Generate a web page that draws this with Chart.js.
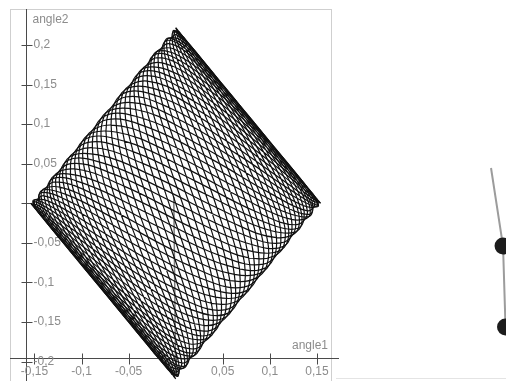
<!DOCTYPE html>
<html>
<head>
<meta charset="utf-8">
<script src="https://cdn.jsdelivr.net/npm/chart.js@4.4.1/dist/chart.umd.min.js"></script>
<style>
  html, body { margin: 0; padding: 0; background: #fff; overflow: hidden; }
  #wrap { position: relative; width: 506px; height: 381px; }
  #plot { position: absolute; left: 0; top: 0; }
  #pend { position: absolute; left: 440px; top: 140px; }
  #floor { position: absolute; left: 336px; top: 378px; width: 170px; height: 1px; background: #e4e4e4; }
</style>
</head>
<body>
<div id="wrap">
  <canvas id="plot" width="506" height="381"></canvas>
  <canvas id="pend" width="66" height="241"></canvas>
  <div id="floor"></div>
</div>
<script>
/* trace of the double pendulum, angle1 / angle2, in five stretches of the run */
const angle1Run1 = [
  0.0000, -0.0121, -0.0429, -0.0782, -0.1008, -0.0969, -0.0623, -0.0039, 0.0623, 0.1167,
  0.1437, 0.1367, 0.1008, 0.0506, 0.0044, -0.0226, -0.0238, -0.0039, 0.0238, 0.0424,
  0.0385, 0.0079, -0.0429, -0.0982, -0.1393, -0.1514, -0.1290, -0.0782, -0.0147, 0.0424,
  0.0770, 0.0822, 0.0623, 0.0306, 0.0044, -0.0026, 0.0147, 0.0506, 0.0905, 0.1167,
  0.1155, 0.0822, 0.0238, -0.0437, -0.1008, -0.1314, -0.1290, -0.0982, -0.0532, -0.0121,
  0.0103, 0.0079, -0.0147, -0.0437, -0.0623, -0.0571, -0.0238, 0.0306, 0.0905, 0.1367,
  0.1540
];
const angle2Run1 = [
  -0.2220, -0.1970, -0.1304, -0.0442, 0.0343, 0.0823, 0.0898, 0.0630, 0.0212, -0.0113,
  -0.0149, 0.0174, 0.0767, 0.1415, 0.1859, 0.1895, 0.1453, 0.0630, -0.0343, -0.1185,
  -0.1665, -0.1683, -0.1304, -0.0729, -0.0212, 0.0038, -0.0063, -0.0442, -0.0898, -0.1185,
  -0.1110, -0.0611, 0.0212, 0.1128, 0.1859, 0.2182, 0.2008, 0.1415, 0.0618, -0.0113,
  -0.0555, -0.0611, -0.0343, 0.0056, 0.0343, 0.0325, -0.0063, -0.0729, -0.1453, -0.1970,
  -0.2071, -0.1683, -0.0898, 0.0056, 0.0898, 0.1397, 0.1453, 0.1128, 0.0618, 0.0174,
  0.0000
];
const angle1Run2 = [
  -0.0009, -0.0200, -0.0547, -0.0894, -0.1071, -0.0960, -0.0544, 0.0079, 0.0735, 0.1230,
  0.1428, 0.1288, 0.0890, 0.0394, -0.0019, -0.0217, -0.0159, 0.0079, 0.0350, 0.0487,
  0.0376, 0.0000, -0.0547, -0.1094, -0.1456, -0.1505, -0.1211, -0.0664, -0.0035, 0.0487,
  0.0761, 0.0743, 0.0505, 0.0194, -0.0019, -0.0017, 0.0226, 0.0624, 0.1017, 0.1230,
  0.1146, 0.0743, 0.0120, -0.0549, -0.1071, -0.1305, -0.1211, -0.0864, -0.0420, -0.0058,
  0.0094, 0.0000, -0.0265, -0.0549, -0.0686, -0.0562, -0.0159, 0.0424, 0.1017, 0.1430,
  0.1531, 0.1288, 0.0787, 0.0194, -0.0301, -0.0562, -0.0544, -0.0319, -0.0035, 0.0142,
  0.0094, -0.0200, -0.0650, -0.1094, -0.1353, -0.1305, -0.0929, -0.0319, 0.0350, 0.0885,
  0.1146, 0.1088, 0.0787, 0.0394, 0.0084, -0.0017, 0.0123, 0.0424, 0.0735, 0.0885,
  0.0761, 0.0345, -0.0265, -0.0894, -0.1353, -0.1505, -0.1314, -0.0864, -0.0317, 0.0142,
  0.0376, 0.0345, 0.0120, -0.0151, -0.0301, -0.0217, 0.0123, 0.0624, 0.1120, 0.1430,
  0.1428, 0.1088, 0.0505, -0.0151, -0.0686, -0.0960, -0.0929, -0.0664, -0.0317, -0.0058,
  -0.0009
];
const angle2Run2 = [
  -0.2207, -0.1857, -0.1134, -0.0281, 0.0434, 0.0810, 0.0785, 0.0460, 0.0051, -0.0204,
  -0.0136, 0.0287, 0.0937, 0.1576, 0.1950, 0.1882, 0.1340, 0.0460, -0.0504, -0.1276,
  -0.1652, -0.1570, -0.1134, -0.0568, -0.0121, 0.0025, -0.0176, -0.0612, -0.1059, -0.1276,
  -0.1097, -0.0498, 0.0382, 0.1289, 0.1950, 0.2169, 0.1895, 0.1245, 0.0457, -0.0204,
  -0.0542, -0.0498, -0.0173, 0.0217, 0.0434, 0.0312, -0.0176, -0.0899, -0.1614, -0.2061,
  -0.2058, -0.1570, -0.0728, 0.0217, 0.0989, 0.1384, 0.1340, 0.0958, 0.0457, 0.0083,
  0.0013, 0.0287, 0.0788, 0.1289, 0.1544, 0.1384, 0.0785, -0.0114, -0.1059, -0.1774,
  -0.2058, -0.1857, -0.1283, -0.0568, 0.0028, 0.0312, 0.0230, -0.0114, -0.0504, -0.0702,
  -0.0542, 0.0000, 0.0788, 0.1576, 0.2099, 0.2169, 0.1746, 0.0958, 0.0051, -0.0702,
  -0.1097, -0.1072, -0.0728, -0.0281, 0.0028, 0.0025, -0.0325, -0.0899, -0.1465, -0.1774,
  -0.1652, -0.1072, -0.0173, 0.0791, 0.1544, 0.1882, 0.1746, 0.1245, 0.0606, 0.0083,
  -0.0136, 0.0000, 0.0382, 0.0791, 0.0989, 0.0810, 0.0230, -0.0612, -0.1465, -0.2061,
  -0.2207
];
const angle1Run3 = [
  -0.0038, -0.0291, -0.0667, -0.0997, -0.1117, -0.0931, -0.0453, 0.0199, 0.0838, 0.1276,
  0.1399, 0.1197, 0.0770, 0.0291, -0.0065, -0.0188, -0.0068, 0.0199, 0.0453, 0.0533,
  0.0347, -0.0091, -0.0667, -0.1197, -0.1502, -0.1476, -0.1120, -0.0544, 0.0068, 0.0533,
  0.0732, 0.0652, 0.0385, 0.0091, -0.0065, 0.0012, 0.0317, 0.0744, 0.1120, 0.1276,
  0.1117, 0.0652, 0.0000, -0.0652, -0.1117, -0.1276, -0.1120, -0.0744, -0.0317, -0.0012,
  0.0065, -0.0091, -0.0385, -0.0652, -0.0732, -0.0533, -0.0068, 0.0544, 0.1120, 0.1476,
  0.1502, 0.1197, 0.0667, 0.0091, -0.0347, -0.0533, -0.0453, -0.0199, 0.0068, 0.0188,
  0.0065, -0.0291, -0.0770, -0.1197, -0.1399, -0.1276, -0.0838, -0.0199, 0.0453, 0.0931,
  0.1117, 0.0997, 0.0667, 0.0291, 0.0038, 0.0012, 0.0214, 0.0544, 0.0838, 0.0931,
  0.0732, 0.0254, -0.0385, -0.0997, -0.1399, -0.1476, -0.1223, -0.0744, -0.0214, 0.0188,
  0.0347, 0.0254, 0.0000, -0.0254, -0.0347, -0.0188, 0.0214, 0.0744, 0.1223, 0.1476,
  0.1399, 0.0997, 0.0385, -0.0254, -0.0732, -0.0931, -0.0838, -0.0544, -0.0214, -0.0012,
  -0.0038
];
const angle2Run3 = [
  -0.2166, -0.1725, -0.0961, -0.0132, 0.0501, 0.0769, 0.0653, 0.0287, -0.0098, -0.0271,
  -0.0095, 0.0419, 0.1110, 0.1725, 0.2017, 0.1841, 0.1208, 0.0287, -0.0653, -0.1343,
  -0.1611, -0.1438, -0.0961, -0.0419, -0.0054, -0.0016, -0.0308, -0.0785, -0.1208, -0.1343,
  -0.1056, -0.0366, 0.0555, 0.1438, 0.2017, 0.2128, 0.1763, 0.1072, 0.0308, -0.0271,
  -0.0501, -0.0366, 0.0000, 0.0366, 0.0501, 0.0271, -0.0308, -0.1072, -0.1763, -0.2128,
  -0.2017, -0.1438, -0.0555, 0.0366, 0.1056, 0.1343, 0.1208, 0.0785, 0.0308, 0.0016,
  0.0054, 0.0419, 0.0961, 0.1438, 0.1611, 0.1343, 0.0653, -0.0287, -0.1208, -0.1841,
  -0.2017, -0.1725, -0.1110, -0.0419, 0.0095, 0.0271, 0.0098, -0.0287, -0.0653, -0.0769,
  -0.0501, 0.0132, 0.0961, 0.1725, 0.2166, 0.2128, 0.1614, 0.0785, -0.0098, -0.0769,
  -0.1056, -0.0940, -0.0555, -0.0132, 0.0095, -0.0016, -0.0457, -0.1072, -0.1614, -0.1841,
  -0.1611, -0.0940, 0.0000, 0.0940, 0.1611, 0.1841, 0.1614, 0.1072, 0.0457, 0.0016,
  -0.0095, 0.0132, 0.0555, 0.0940, 0.1056, 0.0769, 0.0098, -0.0785, -0.1614, -0.2128,
  -0.2166
];
const angle1Run4 = [
  -0.0226, -0.0624, -0.1017, -0.1230, -0.1146, -0.0743, -0.0120, 0.0549, 0.1071, 0.1305,
  0.1211, 0.0864, 0.0420, 0.0058, -0.0094, 0.0000, 0.0265, 0.0549, 0.0686, 0.0562,
  0.0159, -0.0424, -0.1017, -0.1430, -0.1531, -0.1288, -0.0787, -0.0194, 0.0301, 0.0562,
  0.0544, 0.0319, 0.0035, -0.0142, -0.0094, 0.0200, 0.0650, 0.1094, 0.1353, 0.1305,
  0.0929, 0.0319, -0.0350, -0.0885, -0.1146, -0.1088, -0.0787, -0.0394, -0.0084, 0.0017,
  -0.0123, -0.0424, -0.0735, -0.0885, -0.0761, -0.0345, 0.0265, 0.0894, 0.1353, 0.1505,
  0.1314, 0.0864, 0.0317, -0.0142, -0.0376, -0.0345, -0.0120, 0.0151, 0.0301, 0.0217,
  -0.0123, -0.0624, -0.1120, -0.1430, -0.1428, -0.1088, -0.0505, 0.0151, 0.0686, 0.0960,
  0.0929, 0.0664, 0.0317, 0.0058, 0.0009, 0.0200, 0.0547, 0.0894, 0.1071, 0.0960,
  0.0544, -0.0079, -0.0735, -0.1230, -0.1428, -0.1288, -0.0890, -0.0394, 0.0019, 0.0217,
  0.0159, -0.0079, -0.0350, -0.0487, -0.0376, 0.0000, 0.0547, 0.1094, 0.1456, 0.1505,
  0.1211, 0.0664, 0.0035, -0.0487, -0.0761, -0.0743, -0.0505, -0.0194, 0.0019, 0.0017,
  -0.0226
];
const angle2Run4 = [
  -0.1895, -0.1245, -0.0457, 0.0204, 0.0542, 0.0498, 0.0173, -0.0217, -0.0434, -0.0312,
  0.0176, 0.0899, 0.1614, 0.2061, 0.2058, 0.1570, 0.0728, -0.0217, -0.0989, -0.1384,
  -0.1340, -0.0958, -0.0457, -0.0083, -0.0013, -0.0287, -0.0788, -0.1289, -0.1544, -0.1384,
  -0.0785, 0.0114, 0.1059, 0.1774, 0.2058, 0.1857, 0.1283, 0.0568, -0.0028, -0.0312,
  -0.0230, 0.0114, 0.0504, 0.0702, 0.0542, 0.0000, -0.0788, -0.1576, -0.2099, -0.2169,
  -0.1746, -0.0958, -0.0051, 0.0702, 0.1097, 0.1072, 0.0728, 0.0281, -0.0028, -0.0025,
  0.0325, 0.0899, 0.1465, 0.1774, 0.1652, 0.1072, 0.0173, -0.0791, -0.1544, -0.1882,
  -0.1746, -0.1245, -0.0606, -0.0083, 0.0136, 0.0000, -0.0382, -0.0791, -0.0989, -0.0810,
  -0.0230, 0.0612, 0.1465, 0.2061, 0.2207, 0.1857, 0.1134, 0.0281, -0.0434, -0.0810,
  -0.0785, -0.0460, -0.0051, 0.0204, 0.0136, -0.0287, -0.0937, -0.1576, -0.1950, -0.1882,
  -0.1340, -0.0460, 0.0504, 0.1276, 0.1652, 0.1570, 0.1134, 0.0568, 0.0121, -0.0025,
  0.0176, 0.0612, 0.1059, 0.1276, 0.1097, 0.0498, -0.0382, -0.1289, -0.1950, -0.2169,
  -0.1895
];
const angle1Run5 = [
  -0.1540, -0.1367, -0.0905, -0.0306, 0.0238, 0.0571, 0.0623, 0.0437, 0.0147, -0.0079,
  -0.0103, 0.0121, 0.0532, 0.0982, 0.1290, 0.1314, 0.1008, 0.0437, -0.0238, -0.0822,
  -0.1155, -0.1167, -0.0905, -0.0506, -0.0147, 0.0026, -0.0044, -0.0306, -0.0623, -0.0822,
  -0.0770, -0.0424, 0.0147, 0.0782, 0.1290, 0.1514, 0.1393, 0.0982, 0.0429, -0.0079,
  -0.0385, -0.0424, -0.0238, 0.0039, 0.0238, 0.0226, -0.0044, -0.0506, -0.1008, -0.1367,
  -0.1437, -0.1167, -0.0623, 0.0039, 0.0623, 0.0969, 0.1008, 0.0782, 0.0429, 0.0121,
  0.0000
];
const angle2Run5 = [
  0.0000, -0.0174, -0.0618, -0.1128, -0.1453, -0.1397, -0.0898, -0.0056, 0.0898, 0.1683,
  0.2071, 0.1970, 0.1453, 0.0729, 0.0063, -0.0325, -0.0343, -0.0056, 0.0343, 0.0611,
  0.0555, 0.0113, -0.0618, -0.1415, -0.2008, -0.2182, -0.1859, -0.1128, -0.0212, 0.0611,
  0.1110, 0.1185, 0.0898, 0.0442, 0.0063, -0.0038, 0.0212, 0.0729, 0.1304, 0.1683,
  0.1665, 0.1185, 0.0343, -0.0630, -0.1453, -0.1895, -0.1859, -0.1415, -0.0767, -0.0174,
  0.0149, 0.0113, -0.0212, -0.0630, -0.0898, -0.0823, -0.0343, 0.0442, 0.1304, 0.1970,
  0.2220
];

/* the straight drag line at the start of the run */
const startAngle1 = [-0.002, 0.000];
const startAngle2 = [0.008, -0.217];

/* axes */
const xTicks = [-0.15, -0.1, -0.05, 0, 0.05, 0.1, 0.15];
const xTickLabels = ['-0,15', '-0,1', '-0,05', '', '0,05', '0,1', '0,15'];
const yTicks = [0.2, 0.15, 0.1, 0.05, 0, -0.05, -0.1, -0.15, -0.2];
const yTickLabels = ['0,2', '0,15', '0,1', '0,05', '', '-0,05', '-0,1', '-0,15', '-0,2'];
const xAxisAt = -0.195;   // angle2 value the angle1 axis is drawn at
const yAxisAt = -0.159;   // angle1 value the angle2 axis is drawn at

/* pendulum snapshot: pivot, bob 1, bob 2 */
const pendX = [0, 0.154, 0.186];
const pendY = [0, -1.0, -2.04];

const labelFont = '12px "Liberation Sans", Arial, sans-serif';
const labelColor = '#8c8c8c';

const crossAxes = {
    id: 'crossAxes',
    beforeDatasetsDraw(chart) {
        const ctx = chart.ctx;
        const area = chart.chartArea;
        const xs = chart.scales.x;
        const ys = chart.scales.y;
        const ax = Math.round(xs.getPixelForValue(yAxisAt)) + 0.5;
        const ay = Math.round(ys.getPixelForValue(xAxisAt)) + 0.5;
        ctx.save();
        // frame
        ctx.strokeStyle = '#cfcfcf';
        ctx.lineWidth = 1;
        ctx.strokeRect(area.left + 0.5, area.top + 0.5, area.right - area.left, area.bottom - area.top + 5);
        // axis lines
        ctx.strokeStyle = '#4a4a4a';
        ctx.beginPath();
        ctx.moveTo(ax, area.top);
        ctx.lineTo(ax, area.bottom);
        ctx.moveTo(area.left, ay);
        ctx.lineTo(area.right + 8, ay);
        // tick crosses
        yTicks.forEach(v => {
            const py = Math.round(ys.getPixelForValue(v)) + 0.5;
            ctx.moveTo(ax - 5, py);
            ctx.lineTo(ax + 6, py);
        });
        xTicks.forEach(v => {
            const px = Math.round(xs.getPixelForValue(v)) + 0.5;
            ctx.moveTo(px, ay - 5);
            ctx.lineTo(px, ay + 6);
        });
        ctx.stroke();
        // labels
        ctx.font = labelFont;
        ctx.fillStyle = labelColor;
        ctx.textBaseline = 'middle';
        ctx.textAlign = 'left';
        yTicks.forEach((v, i) => {
            ctx.fillText(yTickLabels[i], ax + 7, ys.getPixelForValue(v));
        });
        ctx.textAlign = 'center';
        xTicks.forEach((v, i) => {
            ctx.fillText(xTickLabels[i], xs.getPixelForValue(v), ay + 13);
        });
        ctx.textAlign = 'left';
        ctx.fillText('angle2', ax + 6, area.top + 11);
        ctx.textAlign = 'right';
        ctx.fillText('angle1', area.right - 3, ay - 13);
        ctx.restore();
    }
};

function toPoints(xs, ys) {
    return xs.map((v, i) => ({ x: v, y: ys[i] }));
}

function traceSet(xs, ys) {
    return {
        data: toPoints(xs, ys),
        showLine: true,
        borderColor: '#111111',
        borderWidth: 1.2,
        pointRadius: 0,
        tension: 0.4,
        fill: false
    };
}

new Chart(document.getElementById('plot').getContext('2d'), {
    type: 'scatter',
    data: {
        datasets: [
            traceSet(angle1Run1, angle2Run1),
            traceSet(angle1Run2, angle2Run2),
            traceSet(angle1Run3, angle2Run3),
            traceSet(angle1Run4, angle2Run4),
            traceSet(angle1Run5, angle2Run5),
            {
                data: toPoints(startAngle1, startAngle2),
                showLine: true,
                borderColor: '#7a7a7a',
                borderWidth: 1.5,
                pointRadius: 0,
                tension: 0
            }
        ]
    },
    options: {
        responsive: false,
        animation: false,
        layout: { autoPadding: false, padding: { left: 10, top: 9, right: 175, bottom: 0 } },
        scales: {
            x: { type: 'linear', min: -0.176, max: 0.165, display: false },
            y: { type: 'linear', min: -0.2245, max: 0.2455, display: false }
        },
        plugins: { legend: { display: false }, tooltip: { enabled: false } }
    },
    plugins: [crossAxes]
});

new Chart(document.getElementById('pend').getContext('2d'), {
    type: 'scatter',
    data: {
        datasets: [{
            data: toPoints(pendX, pendY),
            showLine: true,
            borderColor: '#9c9c9c',
            borderWidth: 2,
            pointRadius: [0, 8.5, 8.5],
            pointBackgroundColor: '#1c1c1c',
            pointBorderColor: '#1c1c1c',
            pointBorderWidth: 0,
            clip: false
        }]
    },
    options: {
        responsive: false,
        animation: false,
        layout: { autoPadding: false, padding: 0 },
        scales: {
            x: { type: 'linear', min: -0.654, max: 0.192, display: false },
            y: { type: 'linear', min: -2.731, max: 0.359, display: false }
        },
        plugins: { legend: { display: false }, tooltip: { enabled: false } }
    }
});
</script>
</body>
</html>
